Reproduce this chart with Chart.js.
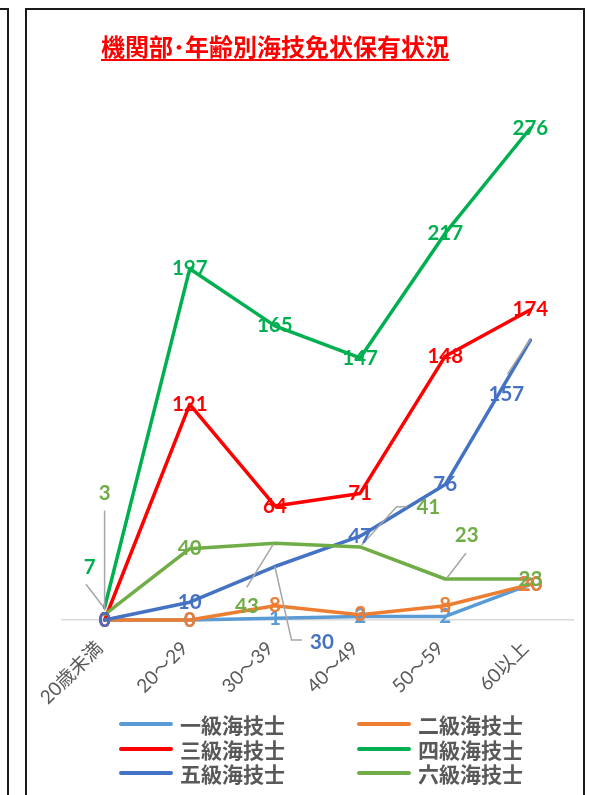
<!DOCTYPE html>
<html lang="ja">
<head>
<meta charset="utf-8">
<title>機関部･年齢別海技免状保有状況</title>
<script src="https://cdn.jsdelivr.net/npm/chart.js@4.4.1/dist/chart.umd.min.js"></script>
<style>
  html, body { margin: 0; padding: 0; background: #fff; }
  body { width: 589px; height: 795px; position: relative; overflow: hidden; }
  .frame-left { position: absolute; left: -20px; top: 8px; width: 25px; height: 820px; border: 2px solid #1a1a1a; }
  .frame { position: absolute; left: 25px; top: 8px; width: 556px; height: 820px; border: 2px solid #1a1a1a; }
  .chart-box { position: absolute; left: 27px; top: 10px; width: 556px; height: 785px; }
  .title {
    position: absolute; left: 101px; top: 34px; margin: 0;
    font: bold 24px/24px "Noto Sans CJK JP", sans-serif; color: #ff0000;
    text-decoration: underline; text-decoration-thickness: 2px; text-underline-offset: 3px;
    white-space: nowrap;
  }
  .legend {
    position: absolute; left: 119px; top: 712px;
    display: grid; grid-template-columns: 238px 238px; grid-auto-rows: 24.5px;
  }
  .legend-item { display: flex; align-items: center; }
  .legend-line { width: 54px; height: 4px; border-radius: 2px; margin-right: 7px; }
  .legend-text { font: bold 21px/24.5px "Noto Sans CJK JP", sans-serif; color: #595959; white-space: nowrap; }
</style>
</head>
<body>
<div class="frame-left"></div>
<div class="frame"></div>
<div class="chart-box"><canvas id="chart" width="556" height="785"></canvas></div>
<h1 class="title">機関部･年齢別海技免状保有状況</h1>
<div class="legend" id="legend"></div>
<script>
// Age groups along the x axis
const categories = ['20歳未満', '20～29', '30～39', '40～49', '50～59', '60以上'];

// Licence holders per age group, one array per licence grade
const grade1 = [0, 0, 1, 2, 2, 20];
const grade2 = [0, 0, 8, 3, 8, 20];
const grade3 = [0, 121, 64, 71, 148, 174];
const grade4 = [7, 197, 165, 147, 217, 276];
const grade5 = [0, 10, 30, 47, 76, 157];
const grade6 = [3, 40, 43, 41, 23, 23];

const seriesNames = ['一級海技士', '二級海技士', '三級海技士', '四級海技士', '五級海技士', '六級海技士'];
const seriesValues = [grade1, grade2, grade3, grade4, grade5, grade6];
const seriesColors = ['#5B9BD5', '#ED7D31', '#FF0000', '#00B050', '#4472C4', '#70AD47'];

// Value labels that sit away from their point, with a leader line back to it
// (offsets in px from the point; keyed by series index, then category index)
const movedLabels = {
  3: { 0: { dx: -15, dy: -40, leader: [[-18.6, -23.2], [-1.3, -0.8]] } },
  4: {
    2: { dx: 47, dy: 75.5, leader: [[0, 0], [16.6, 73.5], [27, 73.5]] },
    5: { dx: -24, dy: 54, leader: [[0, -1], [-23, 34]] }
  },
  5: {
    0: { dx: 0, dy: -121.6, leader: [[0, -104], [0, -4]] },
    2: { dx: -28, dy: 63.4, leader: [[-1.6, 0.7], [-28.2, 44]] },
    3: { dx: 68.2, dy: -39.4, leader: [[1.6, -1.9], [36.6, -40.2], [46.6, -40.2]] },
    4: { dx: 21.4, dy: -43.3, leader: [[1.4, -0.7], [20.7, -25.7]] }
  }
};

// Draws every point's value in its series colour, leader lines first
const valueLabels = {
  id: 'valueLabels',
  afterDatasetsDraw(chart) {
    const ctx = chart.ctx;
    ctx.save();
    ctx.strokeStyle = '#A6A6A6';
    ctx.lineWidth = 1.5;
    chart.data.datasets.forEach((ds, d) => {
      const meta = chart.getDatasetMeta(d);
      const moves = movedLabels[d] || {};
      meta.data.forEach((pt, i) => {
        const m = moves[i];
        if (!m || !m.leader) return;
        ctx.beginPath();
        m.leader.forEach(([lx, ly], k) => {
          if (k === 0) ctx.moveTo(pt.x + lx, pt.y + ly);
          else ctx.lineTo(pt.x + lx, pt.y + ly);
        });
        ctx.stroke();
      });
    });
    ctx.font = 'bold 20.5px Lato, "Noto Sans", sans-serif';
    ctx.textAlign = 'center';
    ctx.textBaseline = 'middle';
    chart.data.datasets.forEach((ds, d) => {
      const meta = chart.getDatasetMeta(d);
      const moves = movedLabels[d] || {};
      ctx.fillStyle = ds.borderColor;
      meta.data.forEach((pt, i) => {
        const m = moves[i];
        const x = pt.x + (m ? m.dx : 0);
        const y = pt.y + (m ? m.dy : 0);
        ctx.fillText(String(ds.data[i]), x, y);
      });
    });
    ctx.restore();
  }
};

const datasets = seriesNames.map((name, k) => ({
  label: name,
  data: seriesValues[k],
  borderColor: seriesColors[k],
  backgroundColor: seriesColors[k],
  borderWidth: 3.5,
  borderJoinStyle: 'round',
  borderCapStyle: 'round',
  pointRadius: 0,
  pointHoverRadius: 0,
  tension: 0,
  fill: false,
  clip: false,
  order: seriesNames.length - k   // later grades are painted over earlier ones
}));

const chart = new Chart(document.getElementById('chart'), {
  type: 'line',
  data: { labels: categories, datasets },
  options: {
    responsive: false,
    animation: false,
    events: [],
    layout: { padding: { left: 35, right: 10, top: 75.2, bottom: 0 } },
    plugins: {
      legend: { display: false },
      title: { display: false },
      tooltip: { enabled: false }
    },
    scales: {
      x: {
        offset: true,
        grid: { display: true, drawOnChartArea: false, drawTicks: false },
        border: { display: true, color: '#D9D9D9', width: 1.5 },
        ticks: {
          autoSkip: false,
          minRotation: 45,
          maxRotation: 45,
          padding: 17,
          labelOffset: -5,
          color: '#595959',
          font: { family: 'Lato, "Noto Sans CJK JP", sans-serif', size: 19 }
        },
        afterFit(scale) { scale.height = 175; }
      },
      y: { display: false, min: 0, max: 300 }
    }
  },
  plugins: [valueLabels]
});

// Legend in two columns beneath the plot, built from the datasets
const legendEl = document.getElementById('legend');
chart.data.datasets.forEach(ds => {
  const item = document.createElement('div');
  item.className = 'legend-item';
  const line = document.createElement('span');
  line.className = 'legend-line';
  line.style.background = ds.borderColor;
  const text = document.createElement('span');
  text.className = 'legend-text';
  text.textContent = ds.label;
  item.appendChild(line);
  item.appendChild(text);
  legendEl.appendChild(item);
});
</script>
</body>
</html>
